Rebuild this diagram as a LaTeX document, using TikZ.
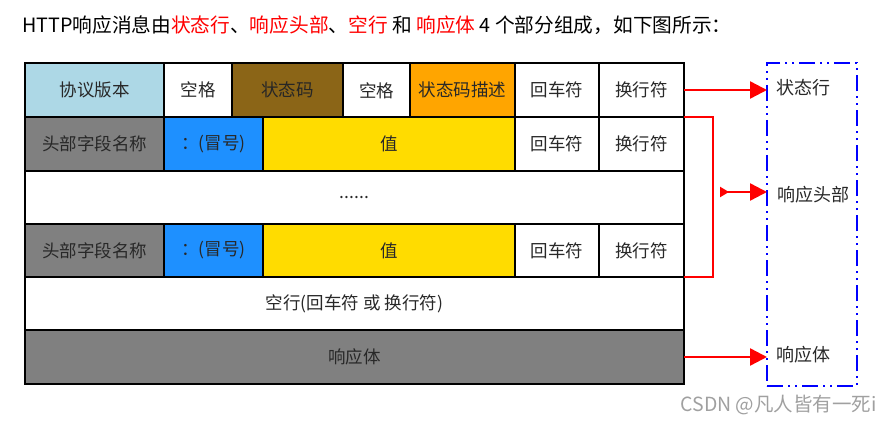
\documentclass[tikz,border=0pt]{standalone}
\usepackage{fontspec}
\newfontfamily\cjk{Noto Sans CJK SC}
\usetikzlibrary{arrows.meta}
\definecolor{txt}{RGB}{40,40,40}
\definecolor{cLightBlue}{RGB}{173,216,230}
\definecolor{cBrown}{RGB}{139,101,23}
\definecolor{cOrange}{RGB}{255,165,0}
\definecolor{cDodger}{RGB}{30,144,255}
\definecolor{cGold}{RGB}{255,220,0}
\definecolor{cGray}{RGB}{128,128,128}
\definecolor{cRed}{RGB}{255,0,0}
\definecolor{cBlue}{RGB}{0,0,255}
\definecolor{cMark}{RGB}{160,160,160}
\tikzset{
  cell/.style={draw=black, line width=2.2pt, anchor=north west, inner sep=0pt, outer sep=0pt,
    text=txt, font=\cjk\fontsize{17.5}{20}\selectfont},
  redline/.style={draw=cRed, line width=2.4pt},
  bigtip/.style={Triangle[length=17pt,width=17pt]},
  redarrow/.style={redline, -{Triangle[length=17pt,width=17pt]}},
  bluebox/.style={draw=cBlue, line width=2.5pt, dash pattern=on 16pt off 5pt on 2pt off 5pt on 2pt off 5pt, inner sep=0pt, outer sep=0pt, anchor=north west},
  rlabel/.style={anchor=west, inner sep=0pt, text=txt, font=\cjk\fontsize{18}{20}\selectfont},
}
\begin{document}
\begin{tikzpicture}[x=1pt,y=-1pt]
\useasboundingbox (0,0) rectangle (891,425);
% title
\node[anchor=west, inner sep=0pt, font=\cjk\fontsize{19.7}{22}\selectfont, text=black] (title) at (22,25)
  {HTTP响应消息由\textcolor{cRed}{状态行}、\textcolor{cRed}{响应头部}、\textcolor{cRed}{空行} 和 \textcolor{cRed}{响应体} 4 个部分组成，如下图所示：};
% row 1
\node[cell, fill=cLightBlue, minimum width=139pt, minimum height=54pt] (r1c1) at (25,63) {协议版本};
\node[cell, fill=white, minimum width=68pt, minimum height=54pt] (r1c2) at (164,63) {空格};
\node[cell, fill=cBrown, text=black!85, minimum width=111pt, minimum height=54pt] (r1c3) at (232,63) {状态码};
\node[cell, fill=white, minimum width=67pt, minimum height=55pt] (r1c4) at (343,63) {空格};
\node[cell, fill=cOrange, minimum width=105pt, minimum height=54pt] (r1c5) at (410,63) {状态码描述};
\node[cell, fill=white, minimum width=84pt, minimum height=54pt] (r1c6) at (515,63) {回车符};
\node[cell, fill=white, minimum width=85pt, minimum height=54pt] (r1c7) at (599,63) {换行符};
% row 2
\node[cell, fill=cGray, minimum width=139pt, minimum height=54pt] (r2c1) at (25,117) {头部字段名称};
\node[cell, fill=cDodger, minimum width=99pt, minimum height=54pt] (r2c2) at (164,117) {：(冒号)};
\node[cell, fill=cGold, minimum width=252pt, minimum height=54pt] (r2c3) at (263,117) {值};
\node[cell, fill=white, minimum width=84pt, minimum height=54pt] (r2c6) at (515,117) {回车符};
\node[cell, fill=white, minimum width=85pt, minimum height=54pt] (r2c7) at (599,117) {换行符};
% row 3
\node[cell, fill=white, minimum width=659pt, minimum height=53pt] (r3) at (25,171) {......};
% row 4
\node[cell, fill=cGray, minimum width=139pt, minimum height=53pt] (r4c1) at (25,224) {头部字段名称};
\node[cell, fill=cDodger, minimum width=99pt, minimum height=53pt] (r4c2) at (164,224) {：(冒号)};
\node[cell, fill=cGold, minimum width=252pt, minimum height=53pt] (r4c3) at (263,224) {值};
\node[cell, fill=white, minimum width=84pt, minimum height=53pt] (r4c6) at (515,224) {回车符};
\node[cell, fill=white, minimum width=85pt, minimum height=53pt] (r4c7) at (599,224) {换行符};
% row 5
\node[cell, fill=white, minimum width=659pt, minimum height=53pt] (r5) at (25,277) {空行(回车符 或 换行符)};
% row 6
\node[cell, fill=cGray, minimum width=659pt, minimum height=54pt] (r6) at (25,330) {响应体};
% right dashed box
\node[bluebox, minimum width=90pt, minimum height=323pt] (rbox) at (767,63) {};
\node[rlabel] (l1) at (776,88) {状态行};
\node[rlabel] (l2) at (777,195) {响应头部};
\node[rlabel] (l3) at (776,355) {响应体};
% connectors
\draw[redarrow] (r1c7.east) -- (r1c7.east -| rbox.west);
\coordinate (bx) at (713,192);
\coordinate (bt) at (720,192);
\draw[redline] (r2c7.north east) -| (bx) |- (r4c7.south east);
\draw[redline, {Triangle[reversed,length=9pt,width=10pt]}-{Triangle[length=17pt,width=17pt]}] (bt) -- (bt -| rbox.west);
\draw[redarrow] (r6.east) -- (r6.east -| rbox.west);
% watermark
\node[anchor=east, inner sep=0pt, text=cMark, font=\cjk\fontsize{19.5}{22}\selectfont] (wm) at (877,405) {CSDN @凡人皆有一死i};
\end{tikzpicture}
\end{document}
